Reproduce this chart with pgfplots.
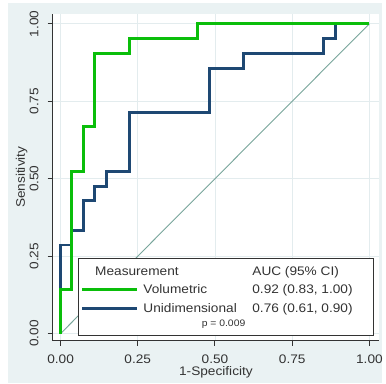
\documentclass[border=0pt]{standalone}
\usepackage{fontspec}
\setmainfont{Liberation Sans}[FakeStretch=1.1]
\usepackage{pgfplots}
\pgfplotsset{compat=1.18}
\definecolor{bgc}{HTML}{EAF2F3}
\definecolor{gridc}{HTML}{E3ECEE}
\definecolor{volc}{RGB}{10,190,10}
\definecolor{unic}{RGB}{30,72,115}
\definecolor{diagc}{RGB}{120,165,155}
\definecolor{axc}{HTML}{333333}
\begin{document}
\begin{tikzpicture}[x=1pt,y=1pt]
\fill[white] (0,0) rectangle (385,386);
\fill[bgc] (8,0) rectangle (385,383);
\begin{axis}[
  at={(53pt,43pt)}, anchor=south west,
  scale only axis, width=329pt, height=329pt,
  xmin=-0.0257, xmax=1.032, ymin=-0.0225, ymax=1.032,
  axis background/.style={fill=white},
  axis x line*=bottom, axis y line*=left,
  axis line style={draw=axc, line width=1.2pt},
  tick align=outside, major tick length=5pt,
  tick style={draw=axc, line width=1pt},
  grid=major, grid style={draw=gridc, line width=0.9pt},
  xtick={0,0.25,0.5,0.75,1}, xticklabels={0.00,0.25,0.50,0.75,1.00},
  ytick={0,0.25,0.5,0.75,1}, yticklabels={0.00,0.25,0.50,0.75,1.00},
  ticklabel style={font=\fontsize{12.5}{14}\selectfont, text=axc},
  xticklabel style={yshift=-5.5pt},
  yticklabel style={rotate=90, anchor=south, inner ysep=9pt},
  xlabel={1-Specificity}, ylabel={Sensitivity},
  label style={font=\fontsize{12.5}{14}\selectfont, text=axc},
  xlabel style={at={(axis description cs:0.5,-0.096)}, anchor=center},
  ylabel style={at={(axis description cs:-0.0945,0.5)}, anchor=center},
]
\addplot[diagc, line width=0.9pt] coordinates {(0,0) (1,1)};
\addplot[unic, line width=3pt, line join=miter] coordinates {
 (0,0) (0,0.286) (0.037,0.286) (0.037,0.333) (0.074,0.333) (0.074,0.429)
 (0.111,0.429) (0.111,0.476) (0.148,0.476) (0.148,0.524) (0.222,0.524)
 (0.222,0.714) (0.481,0.714) (0.481,0.857) (0.593,0.857) (0.593,0.905)
 (0.852,0.905) (0.852,0.952) (0.889,0.952) (0.889,1) (1,1)};
\addplot[volc, line width=3pt, line join=miter] coordinates {
 (0,0) (0,0.143) (0.037,0.143) (0.037,0.524) (0.074,0.524) (0.074,0.667)
 (0.111,0.667) (0.111,0.905) (0.222,0.905) (0.222,0.952) (0.444,0.952)
 (0.444,1) (1,1)};
\end{axis}
% legend
\draw[axc, line width=1pt, fill=white] (79,126) rectangle (376,48.5);
\draw[volc, line width=3pt] (83,94) -- (138,94);
\draw[unic, line width=3pt] (83,75) -- (138,75);
\begin{scope}[every node/.style={anchor=base west, inner sep=0pt, text=axc, font=\fontsize{12.5}{14}\selectfont}]
\node at (95.7,108.5) {Measurement};
\node at (254,108.5) {AUC (95\% CI)};
\node at (144.3,90) {Volumetric};
\node at (254,90) {0.92 (0.83, 1.00)};
\node at (144.3,71.5) {Unidimensional};
\node at (254,71.5) {0.76 (0.61, 0.90)};
\node[font=\fontsize{9.5}{11}\selectfont] at (203,57.5) {p = 0.009};
\end{scope}
\end{tikzpicture}
\end{document}
